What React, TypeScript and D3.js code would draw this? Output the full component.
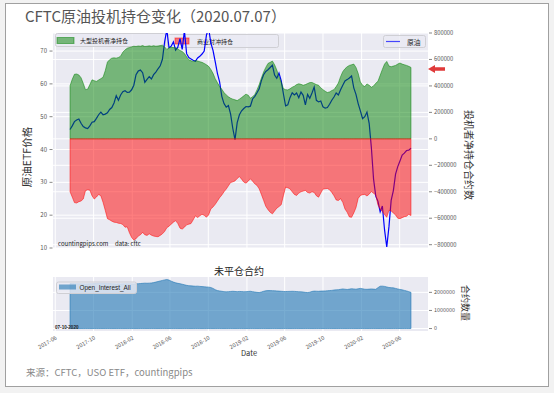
import React from "react";
import * as d3 from "d3";

// weekly COT reports (Tuesdays), first one in the picture
const firstReport = "2017-07-18";

// 大型投机者净持仓, thousand contracts
const specNet = [
  401, 450, 488, 490, 483, 462, 420, 372, 375, 410,
  446, 440, 434, 445, 455, 465, 515, 580, 598, 610,
  612, 610, 615, 625, 655, 672, 685, 690, 695, 700,
  698, 702, 700, 705, 698, 700, 703, 700, 704, 700,
  702, 705, 708, 695, 676, 688, 692, 690, 688, 680,
  668, 660, 645, 620, 598, 590, 585, 592, 588, 583,
  578, 570, 560, 548, 525, 495, 455, 425, 395, 375,
  350, 332, 318, 307, 300, 295, 289, 300, 312, 325,
  338, 330, 307, 318, 335, 370, 410, 460, 505, 540,
  570, 578, 588, 560, 520, 470, 430, 380, 372, 370,
  378, 390, 398, 410, 416, 412, 405, 410, 418, 425,
  426, 418, 410, 405, 385, 372, 360, 350, 355, 365,
  372, 395, 422, 470, 508, 530, 545, 555, 560, 565,
  540, 495, 430, 405, 395, 415, 405, 390, 400, 420,
  435, 480, 525, 565, 585, 550, 545, 550, 555, 565,
  573, 565, 560, 555, 548, 540,
];

// 商业对冲持仓, thousand contracts
const commNet = [
  -400, -440, -482, -485, -475, -470, -455, -392, -385, -388,
  -430, -455, -440, -420, -430, -480, -540, -603, -612, -622,
  -630, -632, -638, -640, -648, -668, -665, -710, -745, -765,
  -755, -735, -725, -707, -725, -730, -718, -728, -735, -738,
  -740, -730, -718, -700, -672, -660, -645, -630, -618, -640,
  -675, -682, -668, -650, -645, -640, -612, -582, -595, -582,
  -570, -578, -592, -575, -530, -515, -495, -470, -445, -425,
  -400, -380, -355, -330, -325, -318, -300, -285, -305, -327,
  -335, -320, -302, -320, -340, -352, -378, -420, -465, -510,
  -535, -555, -567, -545, -524, -512, -498, -430, -365, -370,
  -378, -400, -420, -428, -410, -400, -395, -390, -405, -410,
  -400, -405, -430, -441, -410, -380, -377, -375, -385, -405,
  -430, -462, -466, -452, -480, -530, -555, -590, -593, -560,
  -520, -450, -428, -422, -420, -432, -418, -398, -412, -425,
  -500, -530, -550, -572, -593, -540, -545, -560, -575, -600,
  -603, -596, -588, -585, -570, -580,
];

// 原油 price
const crude = [
  46.1, 47.2, 48.5, 49.0, 49.3, 48.0, 47.0, 46.6, 46.4, 47.2,
  48.3, 48.5, 49.5, 50.6, 51.4, 50.6, 50.8, 51.2, 52.2, 52.8,
  54.2, 56.4, 55.0, 56.6, 57.6, 57.9, 57.4, 57.5, 58.2, 59.6,
  62.8, 63.9, 64.2, 63.4, 60.5, 61.4, 62.2, 61.5, 62.8, 63.6,
  64.6, 65.5, 67.5, 72.8, 76.5, 71.0, 71.5, 72.8, 70.3, 71.2,
  73.8, 70.5, 76.2, 69.2, 68.0, 67.6, 67.2, 66.9, 67.9, 68.4,
  69.1, 70.0, 74.8, 77.0, 72.5, 70.2, 66.8, 63.2, 60.6, 56.2,
  54.0, 52.9, 53.4, 50.8, 46.4, 43.0, 48.2, 50.6, 51.8, 52.5,
  53.1, 53.0, 53.2, 55.4, 56.2, 57.3, 58.5, 61.0, 62.8, 63.8,
  64.3, 65.0, 65.7, 62.7, 61.7, 63.3, 61.0, 57.0, 53.3, 53.6,
  55.8, 57.3, 56.6, 57.2, 55.8, 57.5, 56.5, 53.6, 56.8, 55.6,
  57.2, 59.0, 55.0, 54.5, 54.8, 53.0, 52.6, 52.8, 53.8, 55.0,
  56.0, 57.2, 56.6, 58.2, 59.6, 60.9, 61.3, 61.8, 62.4, 58.8,
  56.8, 54.0, 51.8, 49.4, 50.0, 51.4, 48.0, 40.6, 31.0, 25.8,
  24.2, 21.0, 22.8, 15.5, 10.3, 16.5, 24.5, 27.5, 32.5, 34.8,
  36.5, 38.3, 38.9, 39.7, 39.8, 40.4,
];

// Open_Interest_All, thousand contracts
const openInterest = [
  2490, 2485, 2480, 2478, 2475, 2472, 2470, 2468, 2470, 2475,
  2480, 2490, 2500, 2505, 2510, 2505, 2500, 2495, 2490, 2480,
  2470, 2465, 2470, 2468, 2472, 2470, 2475, 2478, 2470, 2465,
  2470, 2480, 2490, 2500, 2510, 2505, 2510, 2520, 2540, 2570,
  2600, 2630, 2660, 2690, 2710, 2680, 2620, 2570, 2530, 2500,
  2480, 2450, 2420, 2390, 2370, 2360, 2350, 2340, 2345, 2330,
  2320, 2310, 2300, 2290, 2270, 2220, 2150, 2100, 2080, 2060,
  2040, 2030, 2040, 2050, 2060, 2050, 2040, 2050, 2045, 2035,
  2040, 2050, 2060, 2040, 2020, 2000, 1990, 2020, 2060, 2090,
  2100, 2100, 2095, 2090, 2080, 2070, 2060, 2050, 2045, 2050,
  2055, 2060, 2055, 2045, 2035, 2030, 2020, 2000, 1990, 2010,
  2050, 2070, 2065, 2060, 2070, 2075, 2080, 2090, 2100, 2110,
  2130, 2140, 2150, 2170, 2190, 2175, 2160, 2180, 2200, 2190,
  2175, 2200, 2220, 2200, 2175, 2170, 2180, 2190, 2180, 2170,
  2260, 2340, 2345, 2330, 2300, 2270, 2260, 2250, 2220, 2190,
  2160, 2140, 2110, 2080, 2040, 2000,
];

const monthTicks = [
  "2017-06", "2017-10", "2018-02", "2018-06", "2018-10",
  "2019-02", "2019-06", "2019-10", "2020-02", "2020-06",
];
const priceTicks = [10, 20, 30, 40, 50, 60, 70];
const positionTicks = [-800000, -600000, -400000, -200000, 0, 200000, 400000, 600000, 800000];
const oiTicks = [0, 1000000, 2000000];

const cjk = "'Noto Sans CJK SC', 'Noto Sans', sans-serif";
const X0 = 53, X1 = 428;
const T0 = 33, T1 = 248; // main panel
const B0 = 277, B1 = 331; // open interest panel

const fmt = (v: number) => (v < 0 ? "\u2212" + Math.abs(v) : String(v));

export default function App() {
  const start = d3.timeParse("%Y-%m-%d")(firstReport)!;
  const dates = specNet.map((_, i) => d3.timeDay.offset(start, i * 7));
  const [d0, d1] = d3.extent(dates) as [Date, Date];
  const pad = (d1.getTime() - d0.getTime()) * 0.05;
  const x = d3.scaleTime()
    .domain([new Date(d0.getTime() - pad), new Date(d1.getTime() + pad)])
    .range([X0, X1]);
  const tickDates = monthTicks.map(m => d3.timeParse("%Y-%m")(m)!);

  const yPrice = d3.scaleLinear().domain([10, 75.5]).range([T1, T0]);
  const yPos = d3.scaleLinear().domain([-825000, 800000]).range([T1, T0]);
  const yOI = d3.scaleLinear().domain([-136000, 2850000]).range([B1, B0]);

  const priceLine = d3.line<number>().x((_, i) => x(dates[i])).y(d => yPrice(d))(crude)!;
  const posArea = d3.area<number>().x((_, i) => x(dates[i])).y0(yPos(0)).y1(d => yPos(d * 1000));
  const oiArea = d3.area<number>().x((_, i) => x(dates[i])).y0(yOI(0)).y1(d => yOI(d * 1000))(openInterest)!;

  return (
    <svg width={554} height={393} style={{ position: "absolute", left: 0, top: 0 }}
      fontFamily={cjk}>
      <defs>
        <clipPath id="mainClip"><rect x={X0} y={T0} width={X1 - X0} height={T1 - T0} /></clipPath>
      </defs>
      <rect x={0} y={0} width={554} height={393} fill="#f2f2f2" />
      <rect x={5.5} y={3.5} width={543} height={383} fill="#fff" stroke="#a0a0a0" />

      <text x={25} y={22} fontSize={15} fill="#555">CFTC原油投机持仓变化（2020.07.07）</text>

      {/* main panel */}
      <rect x={X0} y={T0} width={X1 - X0} height={T1 - T0} fill="#eaeaf2" />
      <g stroke="#fff" strokeWidth={1}>
        {tickDates.map((d, i) => x(d) >= X0 ? <line key={"v" + i} x1={x(d)} x2={x(d)} y1={T0} y2={T1} /> : null)}
        {priceTicks.map(t => <line key={"p" + t} x1={X0} x2={X1} y1={yPrice(t)} y2={yPrice(t)} />)}
        {positionTicks.map(t => <line key={"q" + t} x1={X0} x2={X1} y1={yPos(t)} y2={yPos(t)} />)}
      </g>

      <g fontSize={6} fill="#222">
        <rect x={55.5} y={33.5} width={110} height={13} fill="#eaeaf2" fillOpacity={0.8} stroke="#cfcfd4" rx={2} />
        <rect x={57} y={37.5} width={17} height={6} fill="green" fillOpacity={0.5} stroke="green" strokeOpacity={0.5} />
        <text x={80} y={43}>大型投机者净持仓</text>
        <rect x={167.5} y={34.5} width={111} height={13} fill="#eaeaf2" fillOpacity={0.8} stroke="#cfcfd4" rx={2} />
        <rect x={175} y={38} width={14} height={6} fill="red" fillOpacity={0.5} stroke="red" strokeOpacity={0.5} />
        <text x={197} y={44}>商业对冲持仓</text>
      </g>

      <path d={priceLine} fill="none" stroke="blue" strokeWidth={1.2} clipPath="url(#mainClip)" />
      <path d={posArea(specNet)!} fill="green" fillOpacity={0.5} stroke="green" strokeOpacity={0.5} strokeWidth={1} />
      <path d={posArea(commNet)!} fill="red" fillOpacity={0.5} stroke="red" strokeOpacity={0.5} strokeWidth={1} />

      <rect x={383.5} y={35.5} width={42} height={12} fill="#eaeaf2" fillOpacity={0.8} stroke="#cfcfd4" rx={2} />
      <line x1={386} x2={400} y1={41.5} y2={41.5} stroke="blue" strokeWidth={1.2} strokeOpacity={0.7} />
      <text x={407} y={44.5} fontSize={6.8} fill="#222">原油</text>

      <text x={58} y={246} fontSize={6} fill="#222">countingpips.com</text>
      <text x={115} y={246} fontSize={6} fill="#222">data: cftc</text>

      {/* left axis */}
      <g fontSize={6} fill="#555">
        {priceTicks.map(t => (
          <g key={"lt" + t}>
            <line x1={49.5} x2={52.5} y1={yPrice(t)} y2={yPrice(t)} stroke="#555" strokeWidth={0.7} />
            <text x={47} y={yPrice(t)} dy="0.35em" textAnchor="end">{t}</text>
          </g>
        ))}
      </g>
      <text transform={`translate(31,157) rotate(-90)`} textAnchor="middle" fontSize={10.5} fill="#333">原油ETF价格</text>

      {/* right axis */}
      <g fontSize={5.8} fill="#555">
        {positionTicks.map(t => (
          <g key={"rt" + t}>
            <line x1={429} x2={432} y1={yPos(t)} y2={yPos(t)} stroke="#555" strokeWidth={0.7} />
            <text x={434} y={yPos(t)} dy="0.35em">{fmt(t)}</text>
          </g>
        ))}
      </g>
      <text transform={`translate(465,155) rotate(90)`} textAnchor="middle" fontSize={10} fill="#333">投机者净持仓合约数</text>
      <polygon points="428,69 435,65 435,67.3 445,67.3 445,70.7 435,70.7 435,73" fill="#e03a3a" />

      {/* open interest panel */}
      <text x={239} y={275} textAnchor="middle" fontSize={10} fill="#222">未平仓合约</text>
      <rect x={X0} y={B0} width={X1 - X0} height={B1 - B0} fill="#eaeaf2" />
      <g stroke="#fff" strokeWidth={1}>
        {tickDates.map((d, i) => x(d) >= X0 ? <line key={"bv" + i} x1={x(d)} x2={x(d)} y1={B0} y2={B1} /> : null)}
        {oiTicks.map(t => <line key={"bh" + t} x1={X0} x2={X1} y1={yOI(t)} y2={yOI(t)} />)}
      </g>
      <path d={oiArea} fill="#1f77b4" fillOpacity={0.6} stroke="#1f77b4" strokeOpacity={0.6} strokeWidth={1} />
      <rect x={56.5} y={282} width={80} height={11.5} fill="#eaeaf2" fillOpacity={0.8} stroke="#cfcfd4" rx={2} />
      <rect x={59} y={284.5} width={17} height={5} fill="#1f77b4" fillOpacity={0.6} />
      <text x={79.5} y={290} fontSize={6.4} fill="#222" fontFamily="'Liberation Sans', sans-serif">Open_Interest_All</text>
      <text x={55} y={328.5} fontSize={4.6} fontWeight="bold" fill="#222" fontFamily="'Liberation Sans', sans-serif">07-10-2020</text>

      <g fontSize={5.4} fill="#555">
        {oiTicks.map(t => (
          <g key={"ot" + t}>
            <line x1={429} x2={432} y1={yOI(t)} y2={yOI(t)} stroke="#555" strokeWidth={0.7} />
            <text x={434} y={yOI(t)} dy="0.35em">{t}</text>
          </g>
        ))}
      </g>
      <text transform={`translate(462,303) rotate(90)`} textAnchor="middle" fontSize={9} fill="#333">合约数量</text>

      <g fontSize={5.6} fill="#555">
        {tickDates.map((d, i) => (
          <text key={"xt" + i} transform={`translate(${x(d) + 2},${339}) rotate(-30)`} textAnchor="end">
            {monthTicks[i]}
          </text>
        ))}
      </g>
      <text x={249} y={356} textAnchor="middle" fontSize={7.5} fill="#333">Date</text>

      <text x={26} y={376} fontSize={9.5} fill="#888">来源：CFTC，USO ETF，countingpips</text>
    </svg>
  );
}
